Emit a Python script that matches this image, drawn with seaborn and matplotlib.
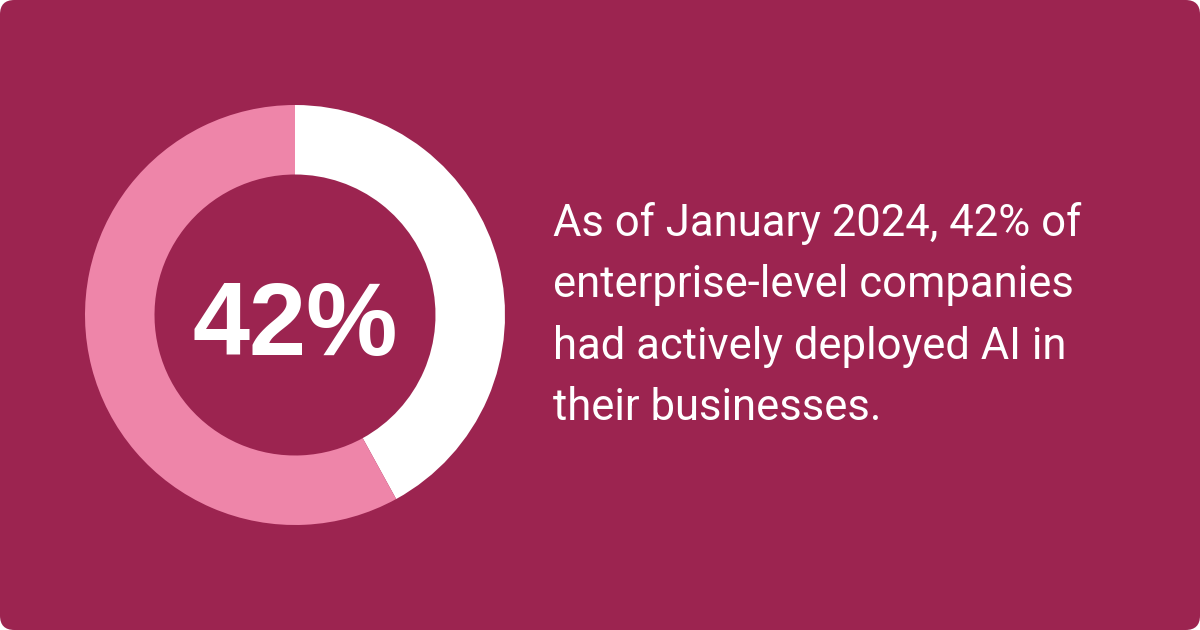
import matplotlib
matplotlib.use("Agg")
import matplotlib.pyplot as plt
from matplotlib.patches import FancyBboxPatch
import seaborn as sns

# ---- data ----
categories = ["Actively deployed AI", "Not deployed"]
shares = [42, 58]
center_label = "42%"
caption_lines = [
    "As of January 2024, 42% of",
    "enterprise-level companies",
    "had actively deployed AI in",
    "their businesses.",
]

BG = "#9C2450"
PINK = "#EE85A9"
WHITE = "#FFFFFF"

sns.set_theme(style="white")
plt.rcParams["font.family"] = ["Roboto", "DejaVu Sans"]

W, H = 1200, 630
fig = plt.figure(figsize=(W / 100, H / 100), dpi=100, facecolor="white")

# rounded background card
card = FancyBboxPatch((0, 0), 1, 1, boxstyle="round,pad=0,rounding_size=0.012",
                      transform=fig.transFigure, facecolor=BG, edgecolor="none",
                      mutation_aspect=W / H, zorder=-10)
fig.patches.append(card)

# donut
cx, cy, r = 295, 315, 210
ax = fig.add_axes([(cx - r) / W, (H - cy - r) / H, 2 * r / W, 2 * r / H])
ax.set_zorder(5)
ax.set_facecolor("none")
ax.pie(shares, colors=[WHITE, PINK], startangle=90, counterclock=False,
       radius=1.0, wedgeprops=dict(width=1 - 140.5 / 210, edgecolor="none", linewidth=0))
ax.set_xlim(-1, 1)
ax.set_ylim(-1, 1)
ax.set_aspect("equal")
ax.axis("off")

ax.text(0, (cy - 355) / r, center_label, ha="center", va="baseline",
        fontsize=74, fontweight="bold", color=WHITE,
        family=["Liberation Sans", "DejaVu Sans"])

# caption
baselines = [236, 297.5, 359, 420]
for line, b in zip(caption_lines, baselines):
    fig.text(553 / W, (H - b) / H, line, ha="left", va="baseline",
             fontsize=31.4, color=WHITE, family=["Roboto", "DejaVu Sans"])

fig.savefig("out.png", dpi=100, facecolor="white")
